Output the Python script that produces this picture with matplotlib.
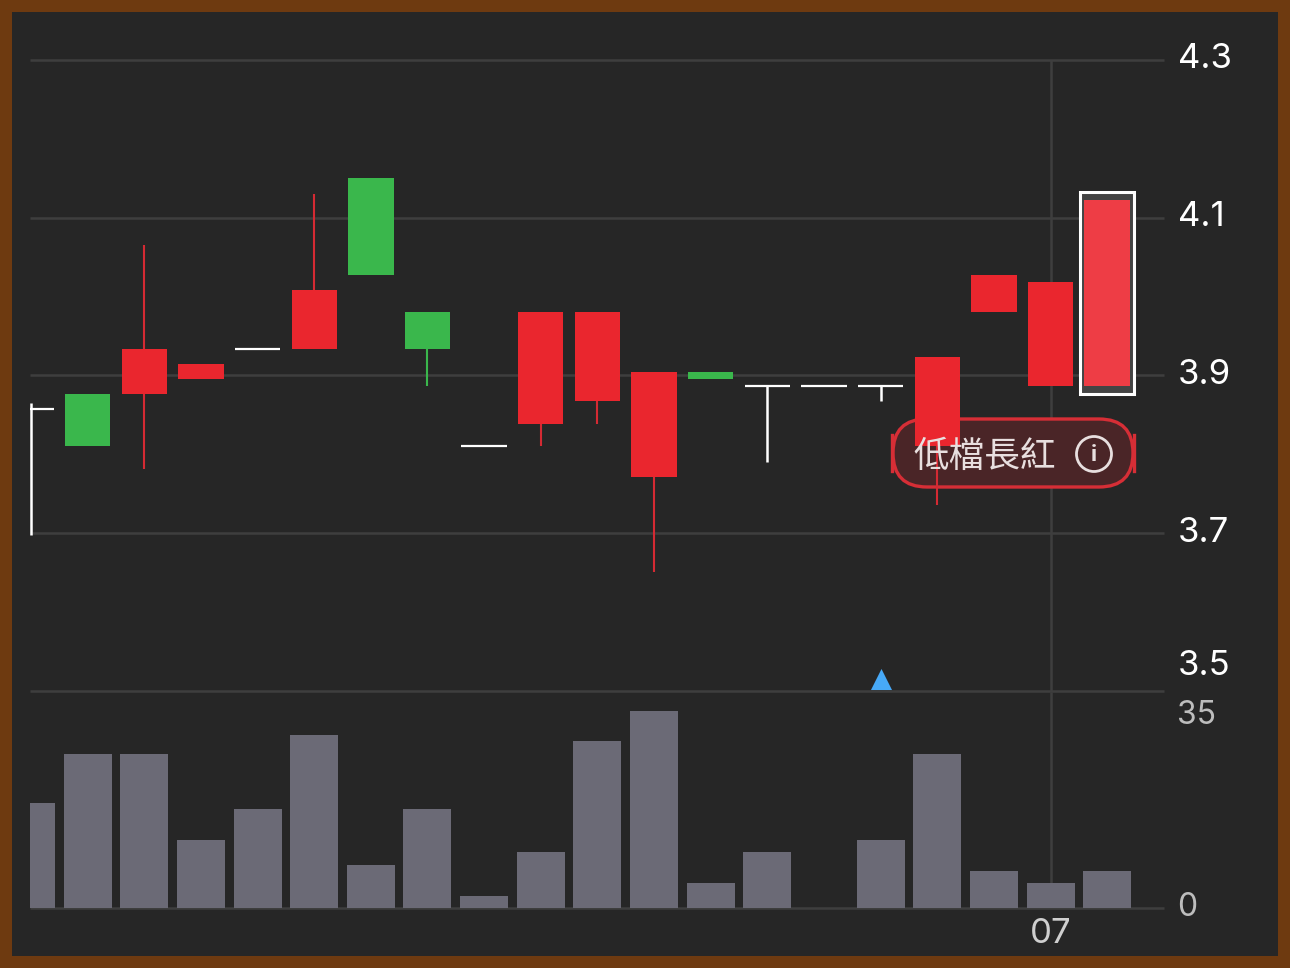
import matplotlib
matplotlib.use("Agg")
import matplotlib.pyplot as plt
from matplotlib.patches import FancyBboxPatch, Rectangle, Circle
from matplotlib.transforms import ScaledTranslation

# ---- data ----
opens  = [3.857, 3.876, 3.876, 3.895, 3.933, 3.933, 4.150, 3.980, 3.810, 3.838, 3.867, 3.771, 3.904, 3.886, 3.886, 3.886, 3.810, 3.980, 3.886, 3.886]
closes = [3.857, 3.810, 3.933, 3.914, 3.933, 4.008, 4.027, 3.933, 3.810, 3.980, 3.980, 3.904, 3.895, 3.886, 3.886, 3.886, 3.923, 4.027, 4.018, 4.122]
highs  = [3.865, 3.876, 4.065, 3.914, 3.933, 4.130, 4.150, 3.980, 3.810, 3.980, 3.980, 3.904, 3.904, 3.886, 3.886, 3.886, 3.923, 4.027, 4.018, 4.122]
lows   = [3.697, 3.810, 3.781, 3.895, 3.933, 3.933, 4.027, 3.886, 3.810, 3.810, 3.838, 3.650, 3.895, 3.790, 3.886, 3.867, 3.735, 3.980, 3.886, 3.886]
volumes = [17, 25, 25, 11, 16, 28, 7, 16, 2, 9, 27, 32, 4, 9, 0, 11, 25, 6, 4, 6]
price_ticks = [3.5, 3.7, 3.9, 4.1, 4.3]
price_labels = ["3.5", "3.7", "3.9", "4.1", "4.3"]
price_label_offsets = [28, 3, 4, 4, 4]
volume_ticks = [0, 35]
volume_labels = ["0", "35"]
volume_label_offsets = [4, -20]
x_tick = 18
x_label = "07"
marker_index = 15
marker_price = 3.515
highlight_index = 19
pattern_label = "低檔長紅"

BROWN = "#6E3A10"; BG = "#262626"; GRID = "#3E3E3E"
RED = "#EA262E"; GREEN = "#3AB74C"; WHITE = "#FFFFFF"; VOL = "#6B6A76"

W, H = 1290, 968
fig = plt.figure(figsize=(W / 100, H / 100), dpi=100, facecolor=BROWN)
plt.rcParams["font.family"] = ["Inter", "DejaVu Sans"]

def box(l, t, r, b):
    return [l / W, 1 - b / H, (r - l) / W, (b - t) / H]

# pixel overlay frame
frame = fig.add_axes([0, 0, 1, 1], zorder=0)
frame.set_xlim(0, W); frame.set_ylim(H, 0); frame.axis("off")
frame.add_patch(Rectangle((12, 12), 1266, 944, fc=BG, ec="none"))

step = 56.64
origin = 31.0
x0 = (30 - origin) / step
x1 = (1164 - origin) / step
ax = fig.add_axes(box(30, 60, 1164, 690.5), zorder=2)
vx = fig.add_axes(box(30, 692, 1164, 908), zorder=1)
for a in (ax, vx):
    a.patch.set_alpha(0)
    a.set_xlim(x0, x1)
    for s in a.spines.values():
        s.set_visible(False)
    a.yaxis.tick_right()
    a.tick_params(axis="y", length=0, pad=10.2)
    a.tick_params(axis="x", length=0)
    a.axvline(x_tick, color=GRID, lw=1.8, zorder=0, solid_capstyle="butt")
ax.set_ylim(3.5, 4.3)
vx.set_ylim(0, 35)

# price axis
ax.set_yticks(price_ticks, price_labels, fontsize=25, color="#FFFFFF")
ax.set_xticks([])
for v in price_ticks:
    ax.axhline(v, color=GRID, lw=1.8, zorder=0.5, clip_on=False, solid_capstyle="butt")
for lab, off in zip(ax.get_yticklabels(), price_label_offsets):
    lab.set_transform(lab.get_transform() + ScaledTranslation(0, off / 100, fig.dpi_scale_trans))

# volume axis
vx.axhline(0, color=GRID, lw=1.8, zorder=1, clip_on=False, solid_capstyle="butt")
vx.bar(range(len(volumes)), volumes, width=48 / step, color=VOL, zorder=2)
vx.set_yticks(volume_ticks, volume_labels, fontsize=23, color="#BDBDBD")
vx.set_xticks([x_tick], [x_label], fontsize=25, color="#CFCFCF")
vx.tick_params(axis="x", pad=7.5)
for lab, off in zip(vx.get_yticklabels(), volume_label_offsets):
    lab.set_transform(lab.get_transform() + ScaledTranslation(-1 / 100, off / 100, fig.dpi_scale_trans))

# pattern pill (drawn below the candles, text above them)
pill = FancyBboxPatch((893 + 34, 419 + 34), 240 - 68, 67 - 68 + 1,
                      boxstyle="round,pad=34,rounding_size=34",
                      transform=frame.transData, fc="#4A2527", ec="#D62E36", lw=2.4,
                      zorder=1, clip_on=False)
ax.add_patch(pill)
for px in (892, 1134):
    ax.plot([px, px], [435, 471], transform=frame.transData, color="#D62E36", lw=2.4,
            clip_on=False, zorder=1)

# candles
half = 22.7 / step
for i, (o, c, h, l) in enumerate(zip(opens, closes, highs, lows)):
    doji = o == c
    up = c > o
    col = WHITE if doji else (RED if up else GREEN)
    if i == highlight_index:
        col = "#EE3D45"
        pad_x, pad_top, pad_bot = 27 / step, 8 / 788, 8 / 788
        ax.add_patch(Rectangle((i - pad_x, l - pad_bot), 2 * pad_x, h - l + pad_top + pad_bot,
                               fc="#444444", ec=WHITE, lw=2.2, zorder=2))
    wick = "#D42A33" if col == RED else col
    ax.plot([i, i], [l, h], color=wick, lw=1.5 if not doji else 1.8,
            solid_capstyle="butt", zorder=3)
    if doji:
        ax.plot([i - half, i + half], [o, o], color=WHITE, lw=1.6,
                solid_capstyle="butt", zorder=4)
    else:
        ax.add_patch(Rectangle((i - half, min(o, c)), 2 * half, abs(c - o), fc=col, ec="none", zorder=4))

ax.scatter([marker_index], [marker_price], marker="^", s=230, color="#47A9F7",
           linewidths=0, zorder=5, clip_on=False)

# pill text
ax.text(985, 456.5, pattern_label, transform=frame.transData, ha="center", va="center",
        fontsize=25.7, color="#E8DFDF", family=["Noto Sans CJK TC", "DejaVu Sans"],
        zorder=6, clip_on=False)
ax.add_patch(Circle((1094, 454), 17.5, transform=frame.transData, fc="none", ec="#E8DFDF",
                    lw=2, zorder=6, clip_on=False))
ax.text(1094, 455, "i", transform=frame.transData, ha="center", va="center", fontsize=16,
        fontweight="bold", color="#E8DFDF", zorder=6, clip_on=False)

fig.savefig("out.png", dpi=100, facecolor=BROWN)
